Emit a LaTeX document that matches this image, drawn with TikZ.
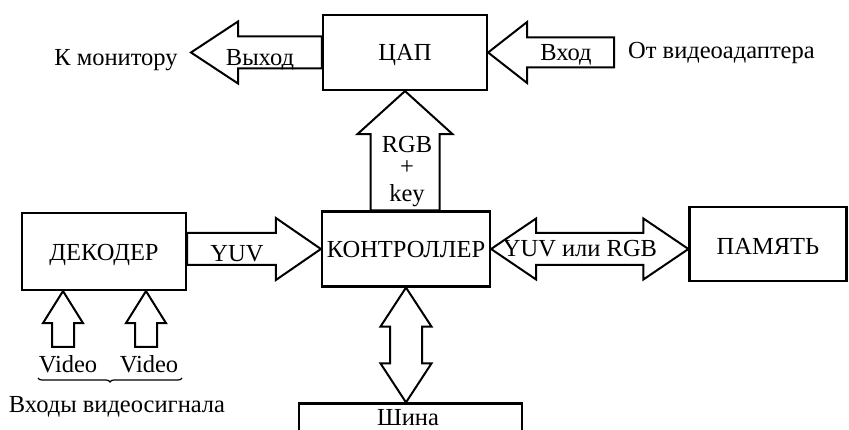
\documentclass[tikz,border=0pt]{standalone}
\usepackage{fontspec}
\setmainfont{Liberation Serif}
\usetikzlibrary{calc,decorations.pathreplacing}
\tikzset{
  txt/.style={inner sep=0pt, font=\fontsize{24.5}{27}\selectfont, text height=16.2pt, text depth=0pt},
  box/.style={txt, draw, line width=2.2pt},
  blk/.style={draw, line width=2pt, line join=miter},
  lbl/.style={txt, yshift=-1.5pt},
  brc/.style={draw, line width=1.2pt, decorate, decoration={brace, mirror, amplitude=4pt}}
}
% horizontal single block arrow: tail, tip, shaft half, head half, head length (signed)
\newcommand\harrow[5]{\draw[blk] let \p1=(#1),\p2=(#2) in
  (\x1,{\y2+#3pt}) -- ({\x2-(#5pt)},{\y2+#3pt}) -- ({\x2-(#5pt)},{\y2+#4pt}) -- (\x2,\y2)
  -- ({\x2-(#5pt)},{\y2-#4pt}) -- ({\x2-(#5pt)},{\y2-#3pt}) -- (\x1,{\y2-#3pt}) -- cycle;}
% vertical single block arrow: tail, tip, shaft half, head half, head length (positive = up)
\newcommand\varrow[5]{\draw[blk] let \p1=(#1),\p2=(#2) in
  ({\x2+#3pt},\y1) -- ({\x2+#3pt},{\y2-(#5pt)}) -- ({\x2+#4pt},{\y2-(#5pt)}) -- (\x2,\y2)
  -- ({\x2-#4pt},{\y2-(#5pt)}) -- ({\x2-#3pt},{\y2-(#5pt)}) -- ({\x2-#3pt},\y1) -- cycle;}
% horizontal double block arrow: left tip, right tip, shaft half, head half, head length
\newcommand\hdarrow[5]{\draw[blk] let \p1=(#1),\p2=(#2) in
  (\x1,\y1) -- ({\x1+#5pt},{\y1+#4pt}) -- ({\x1+#5pt},{\y1+#3pt}) -- ({\x2-#5pt},{\y1+#3pt})
  -- ({\x2-#5pt},{\y1+#4pt}) -- (\x2,\y1) -- ({\x2-#5pt},{\y1-#4pt}) -- ({\x2-#5pt},{\y1-#3pt})
  -- ({\x1+#5pt},{\y1-#3pt}) -- ({\x1+#5pt},{\y1-#4pt}) -- cycle;}
% vertical double block arrow: bottom tip, top tip, shaft half, head half, head length
\newcommand\vdarrow[5]{\draw[blk] let \p1=(#1),\p2=(#2) in
  (\x2,\y1) -- ({\x2+#4pt},{\y1+#5pt}) -- ({\x2+#3pt},{\y1+#5pt}) -- ({\x2+#3pt},{\y2-#5pt})
  -- ({\x2+#4pt},{\y2-#5pt}) -- (\x2,\y2) -- ({\x2-#4pt},{\y2-#5pt}) -- ({\x2-#3pt},{\y2-#5pt})
  -- ({\x2-#3pt},{\y1+#5pt}) -- ({\x2-#4pt},{\y1+#5pt}) -- cycle;}
\begin{document}
\begin{tikzpicture}[x=1pt,y=-1pt]
\useasboundingbox (0,0) rectangle (849,430);
% boxes
\node[box, minimum width=164pt, minimum height=75pt] (dac) at (405,52.5) {};
\node[box, minimum width=168pt, minimum height=75pt] (ctl) at (406,249) {};
\node[box, minimum width=164pt, minimum height=77pt] (dec) at (104,251.5) {};
\node[box, minimum width=157pt, minimum height=74pt] (mem) at (768,244) {};
\node[box, minimum width=223pt, minimum height=30pt] (bus) at (410.5,418.5) {};
% box captions
\node[lbl] (dact) at (405,51) {ЦАП};
\node[lbl] (ctlt) at (406,248) {КОНТРОЛЛЕР};
\node[lbl] (dect) at (104,250.5) {ДЕКОДЕР};
\node[lbl] (memt) at (768,245) {ПАМЯТЬ};
\node[lbl] (bust) at (408,415.5) {Шина};
% free ends
\coordinate (monTip) at (191,52.5);
\coordinate (inTail) at (614,52.5);
\coordinate (v1) at (63,347);
\coordinate (v2) at (146,347);
% block arrows
\harrow{dac.west}{monTip}{16}{31}{-47}
\harrow{inTail}{dac.east}{15}{30.5}{-39}
\varrow{ctl.north}{dac.south}{34.5}{47.5}{43}
\harrow{dec.east}{ctl.west}{16}{31}{45}
\hdarrow{ctl.east}{mem.west}{16}{30.5}{45}
\vdarrow{bus.north}{ctl.south}{16}{25.5}{39}
\varrow{v1}{dec.south -| v1}{11}{20}{32}
\varrow{v2}{dec.south -| v2}{11}{20}{32}
% labels
\node[lbl] (mon) at (116,56) {К монитору};
\node[lbl] (outl) at (260,56) {Выход};
\node[lbl] (inl) at (566,51.3) {Вход};
\node[lbl, anchor=west] (src) at (628,49) {От видеоадаптера};
\node[lbl] (rgb) at (407,142.5) {RGB};
\node[lbl] (plus) at (407,164.7) {+};
\node[lbl] (key) at (407,191.7) {key};
\node[lbl] (yuv) at (237,251.7) {YUV};
\node[lbl] (yr) at (580,247) {YUV или RGB};
\node[lbl] (vid1) at (68,362.5) {Video};
\node[lbl] (vid2) at (149,362.5) {Video};
\coordinate (brL) at (38,378);
\coordinate (brR) at (182,378);
\draw[brc] (brL) -- (brR);
\node[lbl] (inputs) at (117,402.5) {Входы видеосигнала};
\end{tikzpicture}
\end{document}
